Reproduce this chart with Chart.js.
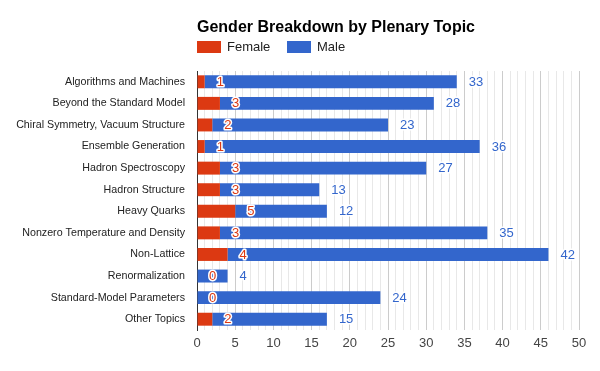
<!DOCTYPE html>
<html>
<head>
<meta charset="utf-8">
<script src="https://cdn.jsdelivr.net/npm/chart.js@4.4.1/dist/chart.umd.min.js"></script>
<style>
  html, body { margin: 0; padding: 0; background: #fff; }
  #wrap { width: 600px; height: 371px; }
</style>
</head>
<body>
<div id="wrap"><canvas id="genderChart" width="600" height="371"></canvas></div>
<script>
// topics and counts
const topics = [
  'Algorithms and Machines',
  'Beyond the Standard Model',
  'Chiral Symmetry, Vacuum Structure',
  'Ensemble Generation',
  'Hadron Spectroscopy',
  'Hadron Structure',
  'Heavy Quarks',
  'Nonzero Temperature and Density',
  'Non-Lattice',
  'Renormalization',
  'Standard-Model Parameters',
  'Other Topics'
];
const femaleCounts = [1, 3, 2, 1, 3, 3, 5, 3, 4, 0, 0, 2];
const maleCounts = [33, 28, 23, 36, 27, 13, 12, 35, 42, 4, 24, 15];
const seriesNames = ['Female', 'Male'];
const seriesColors = ['#dc3912', '#3366cc'];
const xTickStep = 5;

const FONT = "Arial, 'Liberation Sans', sans-serif";

// title + legend drawn above the plot, lined up with the y axis
const headerPlugin = {
  id: 'header',
  afterDraw(chart) {
    const ctx = chart.ctx;
    const left = chart.chartArea.left;
    ctx.save();
    ctx.fillStyle = '#000';
    ctx.font = 'bold 16px ' + FONT;
    ctx.textBaseline = 'alphabetic';
    ctx.textAlign = 'left';
    ctx.fillText('Gender Breakdown by Plenary Topic', left, 32);

    ctx.font = '13px ' + FONT;
    ctx.textBaseline = 'middle';
    let x = left;
    seriesNames.forEach((name, i) => {
      ctx.fillStyle = seriesColors[i];
      ctx.fillRect(x, 41, 24, 12);
      ctx.fillStyle = '#222';
      ctx.fillText(name, x + 30, 47.5);
      x += 90;
    });
    ctx.restore();
  }
};

// value annotations after the end of each bar segment
const valueLabels = {
  id: 'valueLabels',
  afterDatasetsDraw(chart) {
    const ctx = chart.ctx;
    ctx.save();
    ctx.font = '13px ' + FONT;
    ctx.textAlign = 'left';
    ctx.textBaseline = 'middle';
    ctx.lineJoin = 'round';
    chart.data.datasets.forEach((ds, di) => {
      const meta = chart.getDatasetMeta(di);
      meta.data.forEach((bar, i) => {
        const txt = String(ds.data[i]);
        const x = bar.x + 12;
        const y = bar.y + 0.5;
        ctx.strokeStyle = '#fff';
        ctx.lineWidth = 3;
        ctx.strokeText(txt, x, y);
        ctx.fillStyle = seriesColors[di];
        ctx.fillText(txt, x, y);
      });
    });
    ctx.restore();
  }
};

new Chart(document.getElementById('genderChart'), {
  type: 'bar',
  data: {
    labels: topics,
    datasets: [
      { label: seriesNames[0], data: femaleCounts, backgroundColor: seriesColors[0] },
      { label: seriesNames[1], data: maleCounts, backgroundColor: seriesColors[1] }
    ]
  },
  options: {
    indexAxis: 'y',
    responsive: false,
    animation: false,
    barPercentage: 0.6,
    categoryPercentage: 1,
    layout: { padding: { top: 71, right: 21, bottom: 0, left: 0 } },
    plugins: {
      legend: { display: false },
      title: { display: false },
      tooltip: { enabled: false }
    },
    scales: {
      x: {
        stacked: true,
        min: 0,
        max: 50,
        border: { display: false },
        grid: {
          drawTicks: false,
          color: c => (c.tick && c.tick.value % xTickStep === 0) ? '#cccccc' : '#e8e8e8'
        },
        ticks: {
          stepSize: 1,
          autoSkip: false,
          maxRotation: 0,
          padding: 6,
          color: '#444',
          font: { family: FONT, size: 13 },
          callback: v => (v % xTickStep === 0 ? String(v) : '')
        },
        afterFit(scale) { scale.height = 41; }
      },
      y: {
        stacked: true,
        border: { display: true, color: '#333', width: 1 },
        grid: { display: false, drawTicks: false },
        ticks: {
          padding: 12,
          color: '#222',
          font: { family: FONT, size: 10.7 }
        },
        afterFit(scale) { scale.width = 197; }
      }
    }
  },
  plugins: [headerPlugin, valueLabels]
});
</script>
</body>
</html>
